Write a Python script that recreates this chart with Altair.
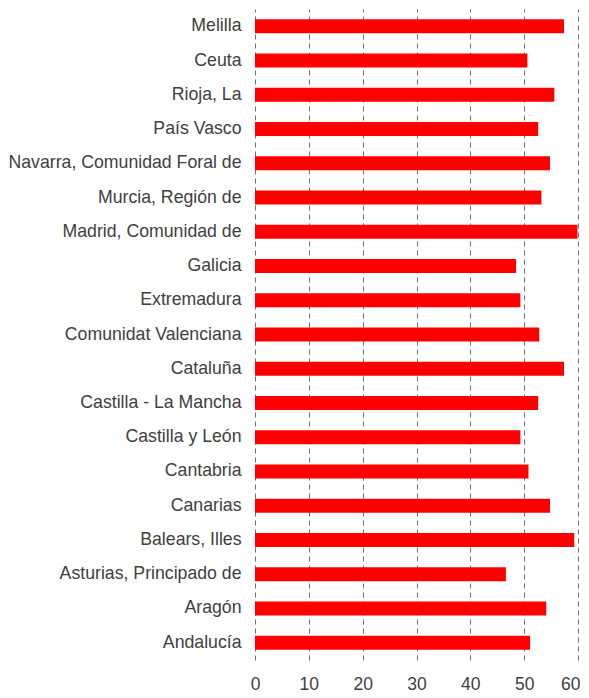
import altair as alt
import pandas as pd

regions = ["Melilla", "Ceuta", "Rioja, La", "País Vasco", "Navarra, Comunidad Foral de",
           "Murcia, Región de", "Madrid, Comunidad de", "Galicia", "Extremadura",
           "Comunidat Valenciana", "Cataluña", "Castilla - La Mancha", "Castilla y León",
           "Cantabria", "Canarias", "Balears, Illes", "Asturias, Principado de",
           "Aragón", "Andalucía"]
values = [57.4, 50.6, 55.6, 52.6, 54.8, 53.2, 59.9, 48.5, 49.3, 52.8,
          57.4, 52.6, 49.3, 50.8, 54.8, 59.3, 46.6, 54.1, 51.1]
x_ticks = [0, 10, 20, 30, 40, 50, 60]

df = pd.DataFrame({"region": regions, "value": values})

chart = alt.Chart(df).mark_bar(color="#ff0000").encode(
    x=alt.X("value:Q", scale=alt.Scale(domain=[0, 60], nice=False),
            axis=alt.Axis(values=x_ticks, title=None, domain=False, ticks=False,
                          grid=True, gridDash=[5, 4], gridColor="#707070", gridWidth=1,
                          labelFontSize=17.5, labelColor="#404040", labelPadding=15,
                          labelFlush=False, labelBound=False,
                          labelAlign=alt.condition("datum.value == 60", alt.value("right"), alt.value("center")),
                          labelOffset=alt.condition("datum.value == 60", alt.value(2), alt.value(0)),
                          labelFont="Liberation Sans")),
    y=alt.Y("region:N", sort=regions,
            scale=alt.Scale(paddingInner=0.59, paddingOuter=0.3),
            axis=alt.Axis(title=None, domain=False, ticks=False, grid=False,
                          labelFontSize=17.7, labelColor="#404040", labelPadding=14,
                          labelFont="Liberation Sans", labelLimit=300)),
).properties(
    width=323, height=651,
    autosize=alt.AutoSizeParams(type="none"),
    padding={"left": 247, "top": 1, "right": 2, "bottom": 36},
).configure_view(stroke=None)

chart.save("out.html", embed_options={"renderer": "svg", "actions": False})
